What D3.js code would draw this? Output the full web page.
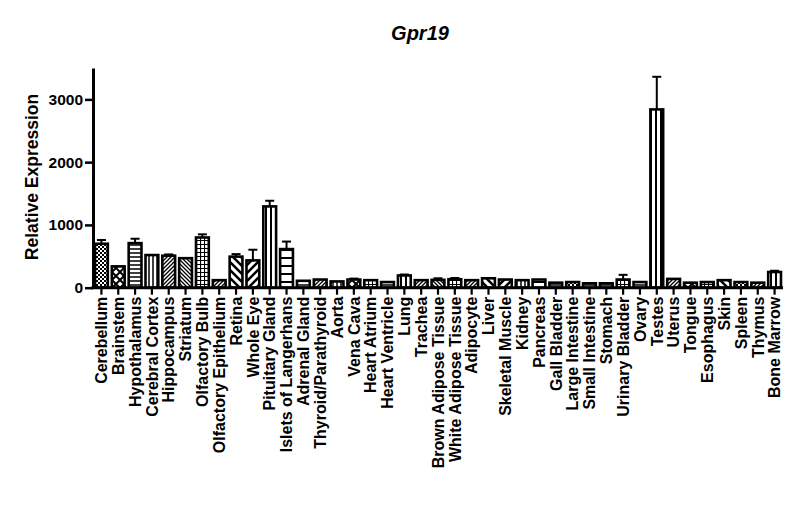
<!DOCTYPE html>
<html>
<head>
<meta charset="utf-8">
<script src="https://cdn.jsdelivr.net/npm/d3@7"></script>
<style>
  body { margin: 0; background: #fff; }
  text { font-family: "Liberation Sans", Arial, sans-serif; font-weight: bold; }
</style>
</head>
<body>
<svg id="chart"></svg>
<script>
// tissues on the x axis
var tissues = ["Cerebellum", "Brainstem", "Hypothalamus", "Cerebral Cortex", "Hippocampus",
  "Striatum", "Olfactory Bulb", "Olfactory Epithelium", "Retina", "Whole Eye",
  "Pituitary Gland", "Islets of Langerhans", "Adrenal Gland", "Thyroid/Parathyroid", "Aorta",
  "Vena Cava", "Heart Atrium", "Heart Ventricle", "Lung", "Trachea",
  "Brown Adipose Tissue", "White Adipose Tissue", "Adipocyte", "Liver", "Skeletal Muscle",
  "Kidney", "Pancreas", "Gall Bladder", "Large Intestine", "Small Intestine",
  "Stomach", "Urinary Bladder", "Ovary", "Testes", "Uterus",
  "Tongue", "Esophagus", "Skin", "Spleen", "Thymus", "Bone Marrow"];

// mean relative expression
var expression = [700, 340, 710, 520, 510, 470, 800, 120, 495, 435,
  1295, 615, 110, 130, 100, 130, 120, 90, 195, 120,
  125, 135, 120, 150, 130, 120, 130, 80, 90, 70,
  70, 130, 90, 2840, 140, 80, 90, 120, 90, 80, 250];

// error (upper bar only)
var sem = [60, 0, 70, 0, 20, 0, 50, 0, 40, 170,
  90, 120, 0, 0, 0, 15, 0, 0, 15, 0,
  25, 20, 0, 0, 0, 0, 0, 0, 0, 0,
  0, 75, 0, 520, 0, 0, 0, 0, 0, 0, 20];

var yTicks = [0, 1000, 2000, 3000];

// fill pattern per bar (styling only)
var fills = ["checkS", "checkL", "hlines", "vlines", "diagR", "diagL", "grid", "diagR", "diagLw", "diagRw",
  "vlinesW", "hlinesW", "hlines", "diagR", "vlines", "checkL", "grid", "hlines", "vlinesW", "diagR",
  "diagL", "grid", "diagR", "diagLw", "diagRw", "vlines", "hlinesW", "hlines", "checkS", "hlines",
  "hlines", "grid", "hlines", "vlinesW", "diagR", "checkL", "grid", "diagLw", "checkS", "diagR", "vlinesW"];

var width = 800, height = 527;
var margin = {left: 93, right: 17, top: 68, bottom: 240};

var svg = d3.select("#chart")
    .attr("width", width)
    .attr("height", height);

// patterns
var defs = svg.append("defs");
function pat(id, size, draw) {
    var p = defs.append("pattern")
        .attr("id", id)
        .attr("patternUnits", "userSpaceOnUse")
        .attr("width", size).attr("height", size);
    p.append("rect").attr("width", size).attr("height", size).attr("fill", "#fff");
    draw(p, size);
}
pat("checkS", 4, function(p) {
    p.append("rect").attr("width", 2).attr("height", 2).attr("fill", "#000");
    p.append("rect").attr("x", 2).attr("y", 2).attr("width", 2).attr("height", 2).attr("fill", "#000");
});
pat("checkL", 8, function(p) {
    p.append("path").attr("d", "M0,0L8,8M8,0L0,8").attr("stroke", "#000").attr("stroke-width", 2);
});
pat("hlines", 4, function(p) {
    p.append("line").attr("x1", 0).attr("x2", 4).attr("y1", 1).attr("y2", 1).attr("stroke", "#000").attr("stroke-width", 1.5);
});
pat("hlinesW", 8, function(p) {
    p.append("line").attr("x1", 0).attr("x2", 8).attr("y1", 2).attr("y2", 2).attr("stroke", "#000").attr("stroke-width", 2);
});
pat("vlines", 4, function(p) {
    p.append("line").attr("y1", 0).attr("y2", 4).attr("x1", 1).attr("x2", 1).attr("stroke", "#000").attr("stroke-width", 1.5);
});
pat("vlinesW", 5, function(p) {
    p.append("line").attr("y1", 0).attr("y2", 5).attr("x1", 1).attr("x2", 1).attr("stroke", "#000").attr("stroke-width", 2);
});
pat("grid", 4, function(p) {
    p.append("path").attr("d", "M0,0.5H4M0.5,0V4").attr("stroke", "#000").attr("stroke-width", 1.2);
});
pat("diagR", 4, function(p) {
    p.append("path").attr("d", "M-1,1L1,-1M0,4L4,0M3,5L5,3").attr("stroke", "#000").attr("stroke-width", 1.3);
});
pat("diagL", 4, function(p) {
    p.append("path").attr("d", "M-1,3L1,5M0,0L4,4M3,-1L5,1").attr("stroke", "#000").attr("stroke-width", 1.3);
});
pat("diagRw", 8, function(p) {
    p.append("path").attr("d", "M-2,2L2,-2M0,8L8,0M6,10L10,6").attr("stroke", "#000").attr("stroke-width", 2.5);
});
pat("diagLw", 8, function(p) {
    p.append("path").attr("d", "M-2,6L2,10M0,0L8,8M6,-2L10,2").attr("stroke", "#000").attr("stroke-width", 2.5);
});

var x = d3.scaleBand()
    .domain(tissues)
    .range([margin.left, width - margin.right])
    .paddingInner(0.24)
    .paddingOuter(0.12);

var y = d3.scaleLinear()
    .domain([0, 3500])
    .range([height - margin.bottom + 0.7, margin.top]);

var idx = d3.range(tissues.length);
var cx = function(i) { return x(tissues[i]) + x.bandwidth() / 2; };

// bars
svg.selectAll("rect.bar")
    .data(idx)
    .enter()
    .append("rect")
    .attr("class", "bar")
    .attr("x", function(i) { return x(tissues[i]); })
    .attr("y", function(i) { return y(expression[i]); })
    .attr("width", x.bandwidth())
    .attr("height", function(i) { return y(0) - y(expression[i]); })
    .attr("fill", function(i) { return "url(#" + fills[i] + ")"; })
    .attr("stroke", "#000")
    .attr("stroke-width", 2.6);

// error bars (upper only)
var withErr = idx.filter(function(i) { return sem[i] > 0; });

svg.selectAll("line.whisker")
    .data(withErr)
    .enter()
    .append("line")
    .attr("class", "whisker")
    .attr("x1", cx).attr("x2", cx)
    .attr("y1", function(i) { return y(expression[i]); })
    .attr("y2", function(i) { return y(expression[i] + sem[i]); })
    .attr("stroke", "#000").attr("stroke-width", 2);

svg.selectAll("line.cap")
    .data(withErr)
    .enter()
    .append("line")
    .attr("class", "cap")
    .attr("x1", function(i) { return cx(i) - 4.5; })
    .attr("x2", function(i) { return cx(i) + 4.5; })
    .attr("y1", function(i) { return y(expression[i] + sem[i]); })
    .attr("y2", function(i) { return y(expression[i] + sem[i]); })
    .attr("stroke", "#000").attr("stroke-width", 2);

// axes
var yAxis = svg.append("g")
    .attr("transform", "translate(" + margin.left + ",0)")
    .call(d3.axisLeft(y).tickValues(yTicks).tickFormat(d3.format("d")).tickSize(8).tickPadding(2).tickSizeOuter(0));
yAxis.select(".domain").attr("stroke-width", 3);
yAxis.selectAll(".tick line").attr("stroke-width", 2.5);
yAxis.selectAll(".tick text").attr("font-size", 15.5).attr("fill", "#000");

var xAxis = svg.append("g")
    .attr("transform", "translate(0," + y(0) + ")")
    .call(d3.axisBottom(x).tickSize(7).tickSizeOuter(0));
xAxis.select(".domain").attr("stroke-width", 3)
    .attr("d", "M" + (margin.left - 1.5) + ",0H" + (width - margin.right));
xAxis.selectAll(".tick line").attr("stroke-width", 2.2);
xAxis.selectAll(".tick text")
    .attr("font-size", 16)
    .attr("fill", "#000")
    .attr("transform", "rotate(-90)")
    .attr("text-anchor", "end")
    .attr("x", -9)
    .attr("y", 0)
    .attr("dy", "0.36em");

// title
svg.append("text")
    .attr("x", 420)
    .attr("y", 40)
    .attr("text-anchor", "middle")
    .attr("font-size", 20)
    .attr("font-style", "italic")
    .text("Gpr19");

// y label
svg.append("text")
    .attr("transform", "translate(38,177) rotate(-90)")
    .attr("text-anchor", "middle")
    .attr("font-size", 17.5)
    .text("Relative Expression");
</script>
</body>
</html>
